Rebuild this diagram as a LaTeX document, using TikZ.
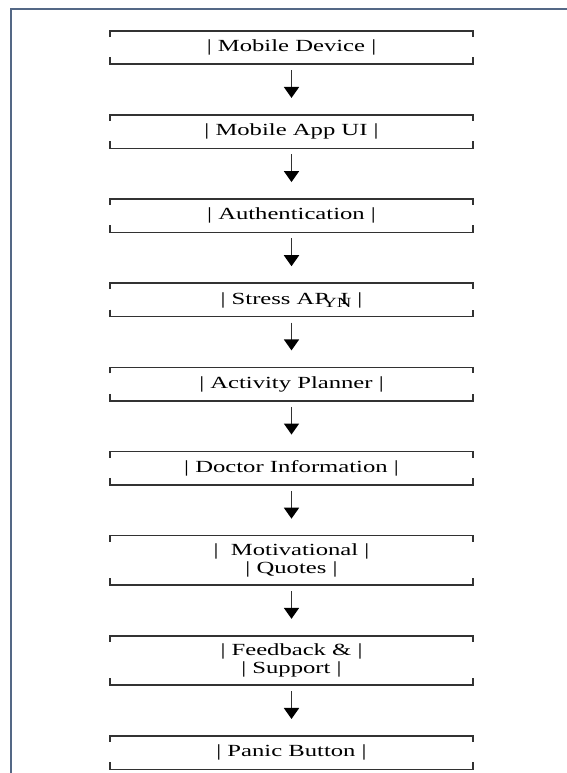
\documentclass[tikz,border=0pt]{standalone}
\usepackage{fontspec}
\setmainfont{Liberation Serif}[FakeStretch=1.45]
\usepackage{tikz}
\usetikzlibrary{positioning,arrows.meta}

\definecolor{framecol}{RGB}{84,104,134}
\definecolor{linecol}{RGB}{50,50,50}

\begin{document}
\begin{tikzpicture}[x=1pt, y=1pt, node distance=50.75pt,
    every node/.style={minimum width=363pt, minimum height=33pt, inner sep=0pt,
        align=center, font=\fontsize{17}{18}\selectfont},
    tall/.style={minimum height=49pt},
    bracket/.style={draw=linecol, line width=1.6pt},
    flow/.style={draw=linecol, line width=1.8pt,
        -{Triangle[length=11pt, width=15pt, sep=4pt, color=black]}}]

    \useasboundingbox (0,0) rectangle (567,773);
    % Page frame
    \draw[framecol, line width=2pt] (11,0) -- (11,764) -- (567,764);

    % Boxes, top to bottom
    \node (device) at (291.5,725.5) {| Mobile Device |};
    \node (appui) [below=of device] {| Mobile App UI |};
    \node (auth) [below=of appui] {| Authentication |};
    \node (api) [below=of auth] {| Stress AP\rlap{\kern-6pt\raisebox{-3pt}{\fontsize{14}{14}\selectfont YN}}\kern12pt I\kern9pt|};
    \node (planner) [below=of api] {| Activity Planner |};
    \node (doctor) [below=of planner] {| Doctor Information |};
    \node (quotes) [tall, below=of doctor] {|\ \ Motivational |\\| Quotes |};
    \node (feedback) [tall, below=of quotes] {| Feedback \& |\\| Support |};
    \node (panic) [below=of feedback] {| Panic Button |};

    % Open corners of each box
    \foreach \b in {device,appui,auth,api,planner,doctor,quotes,feedback,panic} {
        \draw[bracket] ([yshift=-6pt]\b.north west) -- (\b.north west)
            -- (\b.north east) -- ++(0,-6pt);
        \draw[bracket] ([yshift=7pt]\b.south west) -- (\b.south west)
            -- (\b.south east) -- ++(0,7pt);
    }

    % Arrows
    \foreach \a/\b in {device/appui,appui/auth,auth/api,api/planner,
        planner/doctor,doctor/quotes,quotes/feedback,feedback/panic}
        \draw[flow] ([yshift=-6pt]\a.south) -- ([yshift=13pt]\b.north);
\end{tikzpicture}
\end{document}
